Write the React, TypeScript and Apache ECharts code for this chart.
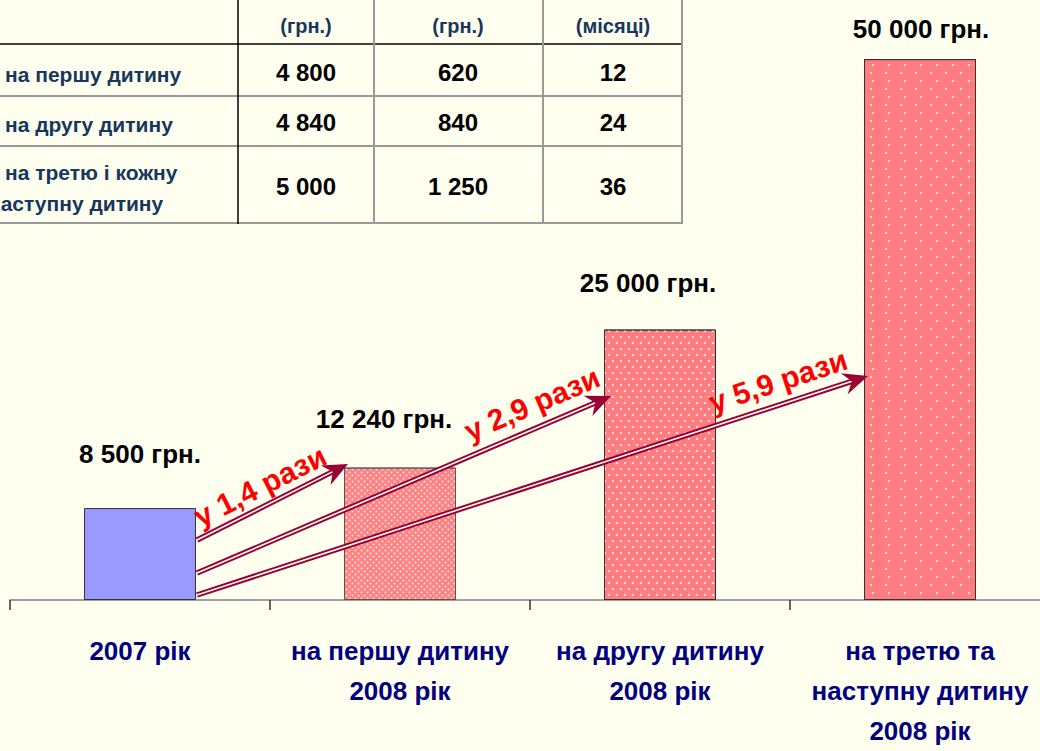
import React, { useEffect, useRef } from "react";
import * as echarts from "echarts";

// ---- data ----
const categories = [
  "2007 рік",
  "на першу дитину\n2008 рік",
  "на другу дитину\n2008 рік",
  "на третю та\nнаступну дитину\n2008 рік",
];
const amounts = [8500, 12240, 25000, 50000];
const amountLabels = ["8 500 грн.", "12 240 грн.", "25 000 грн.", "50 000 грн."];

const tableHeaders = ["(грн.)", "(грн.)", "(місяці)"];
const tableRowLabels = [["на першу дитину"], ["на другу дитину"], ["на третю і кожну", "наступну дитину"]];
const lumpSum = ["4 800", "4 840", "5 000"];
const monthly = ["620", "840", "1 250"];
const months = ["12", "24", "36"];

const ratios = ["у 1,4 рази", "у 2,9 рази", "у 5,9 рази"];

// ---- styles ----
const BG = "#FFFFEF";
const FONT = '"Liberation Sans", Arial, sans-serif';
const NAVY = "#000080";
const TABLE_NAVY = "#17375E";
const ARROW = "#990033";

function arrow(x1: number, y1: number, x2: number, y2: number) {
  const dx = x2 - x1, dy = y2 - y1;
  const L = Math.hypot(dx, dy);
  const ux = dx / L, uy = dy / L, nx = -uy, ny = ux;
  const headLen = 25, headW = 11, notch = 17;
  const bx = x2 - ux * headLen, by = y2 - uy * headLen;
  const ex = x2 - ux * notch, ey = y2 - uy * notch;
  const pts = [
    [x2, y2],
    [bx + nx * headW, by + ny * headW],
    [ex, ey],
    [bx - nx * headW, by - ny * headW],
  ];
  return [
    { type: "line", z: 100, shape: { x1, y1, x2: ex, y2: ey }, style: { stroke: ARROW, lineWidth: 5.5 } },
    { type: "line", z: 101, shape: { x1, y1, x2: ex, y2: ey }, style: { stroke: BG, lineWidth: 1.6 } },
    { type: "polygon", z: 102, shape: { points: pts }, style: { fill: ARROW } },
  ];
}

function ratioText(text: string, x: number, y: number, deg: number) {
  return {
    type: "text",
    z: 103,
    x,
    y,
    rotation: (deg * Math.PI) / 180,
    style: {
      text,
      fill: "#FF0000",
      font: `bold 30px ${FONT}`,
      align: "center",
      verticalAlign: "middle",
    },
  };
}

function tableGraphics() {
  const els: any[] = [];
  const colX = [306, 458, 613];
  const rowY = [72, 122, 186];
  const hLines = [
    { y: 44, c: "#000000", w: 1.5 },
    { y: 96, c: "#999999", w: 2 },
    { y: 146, c: "#999999", w: 2 },
    { y: 223, c: "#999999", w: 2 },
  ];
  hLines.forEach((l) =>
    els.push({ type: "line", shape: { x1: 0, y1: l.y, x2: 683, y2: l.y }, style: { stroke: l.c, lineWidth: l.w } })
  );
  const vLines = [
    { x: 238, c: "#000000", w: 1.5 },
    { x: 374, c: "#999999", w: 2 },
    { x: 543, c: "#999999", w: 2 },
    { x: 682, c: "#999999", w: 2 },
  ];
  vLines.forEach((l) =>
    els.push({ type: "line", shape: { x1: l.x, y1: 0, x2: l.x, y2: 224 }, style: { stroke: l.c, lineWidth: l.w } })
  );
  tableHeaders.forEach((h, i) =>
    els.push({
      type: "text",
      x: colX[i],
      y: 26,
      style: { text: h, fill: TABLE_NAVY, font: `bold 20px ${FONT}`, align: "center", verticalAlign: "middle" },
    })
  );
  const cols = [lumpSum, monthly, months];
  cols.forEach((col, ci) =>
    col.forEach((v, ri) =>
      els.push({
        type: "text",
        x: colX[ci],
        y: rowY[ri],
        style: { text: v, fill: "#000000", font: `bold 24px ${FONT}`, align: "center", verticalAlign: "middle" },
      })
    )
  );
  const labelPos = [
    [[5, 74]],
    [[5, 124]],
    [
      [5, 172],
      [-12, 203],
    ],
  ];
  tableRowLabels.forEach((lines, ri) =>
    lines.forEach((t, li) =>
      els.push({
        type: "text",
        x: labelPos[ri][li][0],
        y: labelPos[ri][li][1],
        style: { text: t, fill: TABLE_NAVY, font: `bold 21px ${FONT}`, align: "left", verticalAlign: "middle" },
      })
    )
  );
  return els;
}

const barStyles = [
  { color: "#9999FF", borderColor: "#333333", borderWidth: 1 },
  {
    color: "#FF8080",
    borderColor: "#555555",
    borderWidth: 1,
    decal: {
      symbol: "diamond",
      symbolSize: 1,
      color: "rgba(255,255,255,0.55)",
      dashArrayX: [
        [3, 3],
        [0, 3, 3, 0],
      ],
      dashArrayY: [3, 0],
    },
  },
  {
    color: "#FF7C80",
    borderColor: "#333333",
    borderWidth: 1,
    decal: {
      symbol: "circle",
      symbolSize: 1,
      color: "rgba(255,255,255,0.9)",
      dashArrayX: [
        [1.8, 5.2],
        [0, 3.5, 1.8, 1.7],
      ],
      dashArrayY: [1.8, 3.2],
    },
  },
  {
    color: "#FF7C80",
    borderColor: "#333333",
    borderWidth: 1,
    decal: {
      symbol: "circle",
      symbolSize: 1,
      color: "rgba(255,255,255,0.9)",
      dashArrayX: [
        [2, 13],
        [0, 7.5, 2, 5.5],
      ],
      dashArrayY: [2, 5.5],
    },
  },
];
const labelOffsets = [
  [0, -41],
  [-16, -36],
  [-12, -34],
  [1, -17],
];

export default function App() {
  const ref = useRef<HTMLDivElement>(null);
  useEffect(() => {
    if (!ref.current) return;
    const chart = echarts.init(ref.current, null, { renderer: "svg" });
    const option: any = {
      animation: false,
      backgroundColor: BG,
      grid: { left: 10, right: 0, top: 5, bottom: 151, containLabel: false, outerBoundsMode: "none" },
      xAxis: {
        type: "category",
        data: categories,
        axisLine: { show: true, lineStyle: { color: "#808080", width: 1.5 } },
        axisTick: { show: true, length: 10, alignWithLabel: false, lineStyle: { color: "#333333", width: 1.5 } },
        axisLabel: {
          interval: 0,
          margin: 31,
          color: NAVY,
          fontFamily: FONT,
          fontWeight: "bold",
          fontSize: 26,
          lineHeight: 40,
          hideOverlap: false,
        },
      },
      yAxis: { type: "value", min: 0, max: 55000, show: false, splitLine: { show: false } },
      series: [
        {
          type: "bar",
          barWidth: 112,
          data: amounts.map((v, i) => ({
            value: v,
            itemStyle: barStyles[i],
            label: { offset: labelOffsets[i] },
          })),
          label: {
            show: true,
            position: "top",
            distance: 0,
            formatter: (p: any) => amountLabels[p.dataIndex],
            color: "#000000",
            fontFamily: FONT,
            fontWeight: "bold",
            fontSize: 26,
          },
        },
      ],
      graphic: [
        ...tableGraphics(),
        ...arrow(197, 540, 348, 464),
        ...arrow(197, 573, 611, 396),
        ...arrow(197, 595, 868, 376),
        ratioText(ratios[0], 260, 486, 26.7),
        ratioText(ratios[1], 532, 404, 23.2),
        ratioText(ratios[2], 778, 381, 18.1),
      ],
    };
    chart.setOption(option);
    return () => chart.dispose();
  }, []);
  return (
    <div
      style={{
        position: "fixed",
        left: 0,
        top: 0,
        width: 1040,
        height: 751,
        overflow: "hidden",
        background: BG,
      }}
    >
      <div ref={ref} style={{ width: 1050, height: 751 }} />
    </div>
  );
}
